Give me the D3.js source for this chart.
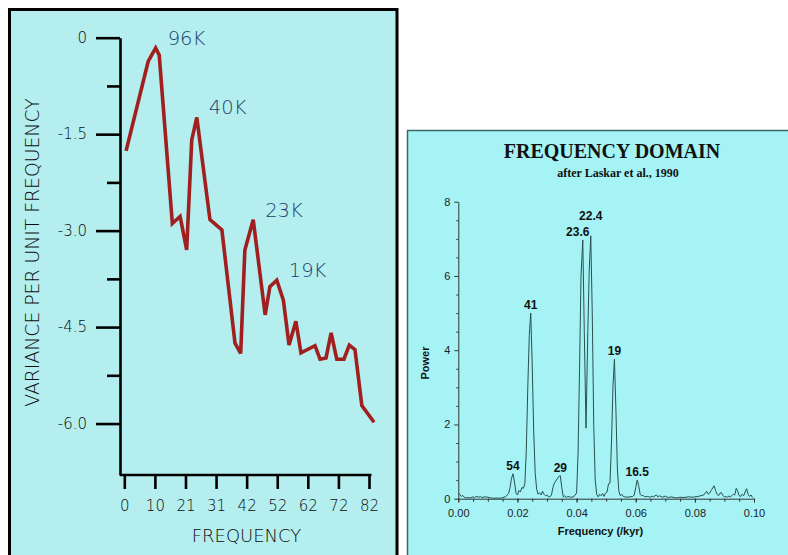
<!DOCTYPE html>
<html>
<head>
<meta charset="utf-8">
<script src="https://cdn.jsdelivr.net/npm/d3@7/dist/d3.min.js"></script>
<style>
  html, body { margin: 0; padding: 0; background: #ffffff; }
  svg { display: block; }
</style>
</head>
<body>
<svg id="chart" width="788" height="555"></svg>
<script>
// ---- Left panel: variance spectrum (log variance vs frequency) ----
const varFreq = [0.6, 8.0, 10.5, 11.7, 16.1, 18.7, 20.9, 22.6, 24.3, 28.7, 32.7, 37.1, 39.0,
  40.4, 43.2, 47.2, 48.8, 51.1, 53.3, 55.2, 57.5, 59.2, 63.9, 65.6, 67.6, 69.3, 71.2,
  73.6, 75.4, 77.3, 79.6, 83.7];
const varValue = [-1.76, -0.37, -0.16, -0.27, -2.89, -2.78, -3.30, -1.59, -1.24, -2.83, -2.99,
  -4.75, -4.91, -3.30, -2.83, -4.31, -3.87, -3.77, -4.08, -4.78, -4.41, -4.90, -4.79, -5.00,
  -4.98, -4.59, -5.00, -5.00, -4.78, -4.85, -5.72, -5.98];
const varTicks = [0, -1.5, -3.0, -4.5, -6.0];
const varMinorTicks = [-0.75, -2.25, -3.75, -5.25];
const freqTickLabels = ["0", "10", "21", "31", "42", "52", "62", "72", "82"];
const cycleLabels = ["96K", "40K", "23K", "19K"];
const cyclePeakIndex = [2, 8, 14, 17];

// ---- Right panel: power spectrum after Laskar et al., 1990 ----
const powFreq = [0.0000, 0.0005, 0.0010, 0.0015, 0.0020, 0.0025, 0.0030, 0.0040, 0.0050, 0.0055,
  0.0060, 0.0070, 0.0075, 0.0080, 0.0090, 0.0100, 0.0110, 0.0120, 0.0130, 0.0140, 0.0150,
  0.0160, 0.0165, 0.0170, 0.0175, 0.0180, 0.0185, 0.0190, 0.0195, 0.0200, 0.0205, 0.0210,
  0.0215, 0.0220, 0.0225, 0.0230, 0.0235, 0.0240, 0.0245, 0.0250, 0.0255, 0.0260, 0.0265,
  0.0270, 0.0275, 0.0280, 0.0285, 0.0290, 0.0295, 0.0300, 0.0305, 0.0310, 0.0315, 0.0320,
  0.0325, 0.0330, 0.0340, 0.0345, 0.0350, 0.0355, 0.0360, 0.0365, 0.0370, 0.0380, 0.0390,
  0.0400, 0.0405, 0.0410, 0.0415, 0.0421, 0.0426, 0.0432, 0.0438, 0.0443, 0.0448, 0.0453,
  0.0458, 0.0463, 0.0468, 0.0473, 0.0478, 0.0483, 0.0488, 0.0493, 0.0498, 0.0503, 0.0508,
  0.0513, 0.0518, 0.0523, 0.0528, 0.0533, 0.0538, 0.0543, 0.0548, 0.0553, 0.0558, 0.0563,
  0.0570, 0.0580, 0.0590, 0.0595, 0.0600, 0.0605, 0.0610, 0.0615, 0.0620, 0.0625, 0.0630,
  0.0640, 0.0650, 0.0655, 0.0660, 0.0670, 0.0675, 0.0680, 0.0690, 0.0700, 0.0710, 0.0720,
  0.0730, 0.0740, 0.0750, 0.0760, 0.0770, 0.0780, 0.0790, 0.0800, 0.0810, 0.0820, 0.0830,
  0.0840, 0.0845, 0.0850, 0.0855, 0.0865, 0.0870, 0.0875, 0.0880, 0.0885, 0.0890, 0.0895,
  0.0900, 0.0905, 0.0910, 0.0915, 0.0920, 0.0925, 0.0930, 0.0935, 0.0940, 0.0945, 0.0950,
  0.0955, 0.0960, 0.0965, 0.0970, 0.0975, 0.0980, 0.0985, 0.0990, 0.0995];
const powValue = [0.14, 0.12, 0.06, 0.09, 0.04, 0.02, 0.03, 0.02, 0.05, 0.03,
  0.06, 0.04, 0.06, 0.03, 0.05, 0.04, 0.02, 0.01, 0.02, 0.01, 0.03,
  0.05, 0.10, 0.14, 0.30, 0.55, 0.67, 0.45, 0.15, 0.10, 0.22, 0.18,
  0.30, 0.28, 0.40, 1.30, 3.00, 4.40, 5.00, 3.60, 1.80, 0.70, 0.25,
  0.12, 0.16, 0.10, 0.20, 0.12, 0.08, 0.10, 0.05, 0.05, 0.10, 0.30,
  0.42, 0.48, 0.60, 0.62, 0.30, 0.05, 0.08, 0.03, 0.06, 0.04, 0.05,
  0.15, 1.20, 3.50, 6.00, 6.97, 4.50, 1.90, 4.50, 6.20, 7.08, 5.00,
  2.00, 0.50, 0.12, 0.05, 0.12, 0.08, 0.14, 0.06, 0.15, 0.18, 0.40,
  0.42, 1.50, 3.00, 3.76, 2.40, 0.80, 0.20, 0.08, 0.12, 0.06, 0.05,
  0.04, 0.05, 0.06, 0.10, 0.30, 0.50, 0.35, 0.12, 0.08, 0.09, 0.05,
  0.06, 0.04, 0.07, 0.05, 0.10, 0.05, 0.08, 0.04, 0.07, 0.03, 0.05,
  0.03, 0.02, 0.04, 0.03, 0.04, 0.05, 0.04, 0.05, 0.06, 0.08, 0.10,
  0.20, 0.12, 0.15, 0.22, 0.35, 0.22, 0.12, 0.08, 0.15, 0.16, 0.08,
  0.05, 0.06, 0.04, 0.07, 0.05, 0.08, 0.12, 0.10, 0.28, 0.20, 0.08,
  0.06, 0.12, 0.08, 0.18, 0.27, 0.12, 0.06, 0.10, 0.03];
const powerTicks = [0, 2, 4, 6, 8];
const freqTicksKyr = [0.00, 0.02, 0.04, 0.06, 0.08, 0.10];
const peakNames = ["54", "41", "29", "23.6", "22.4", "19", "16.5"];
const peakFreq = [0.0185, 0.0245, 0.0345, 0.0421, 0.0448, 0.0528, 0.0605];
const peakPower = [0.67, 5.00, 0.62, 6.97, 7.08, 3.76, 0.50];

const svg = d3.select("#chart");

// ================= LEFT PANEL =================
const left = svg.append("g");
left.append("rect")
  .attr("x", 9.5).attr("y", 9.5).attr("width", 387.5).attr("height", 548)
  .attr("fill", "#b4eeee").attr("stroke", "#000").attr("stroke-width", 3);

const xL = d3.scaleLinear().domain([0, 82]).range([124.3, 369]);
const yL = d3.scaleLinear().domain([-6.8, 0]).range([475, 37.7]);
const fontL = "'DejaVu Sans', Verdana, sans-serif";
const weightL = 200;
const inkL = "#0c0c0c";

// y axis, major and minor ticks
left.append("g").attr("transform", "translate(120,0)")
  .call(d3.axisLeft(yL).tickValues(varTicks).tickSize(24).tickSizeOuter(0).tickPadding(9)
    .tickFormat(d => d === 0 ? "0" : d.toFixed(1)));
left.append("g").attr("transform", "translate(120,0)")
  .call(d3.axisLeft(yL).tickValues(varMinorTicks).tickSize(13).tickFormat(""))
  .call(g => g.select(".domain").remove());

// x axis
const xTickPos = d3.range(freqTickLabels.length).map(i => i * 82 / (freqTickLabels.length - 1));
left.append("g").attr("transform", "translate(0,475)")
  .call(d3.axisBottom(xL).tickValues(xTickPos).tickSize(14).tickPadding(11)
    .tickFormat((d, i) => freqTickLabels[i]))
  .call(g => g.select(".domain").remove());
left.append("line").attr("x1", 120).attr("x2", 371.5).attr("y1", 475).attr("y2", 475)
  .attr("stroke", "#000").attr("stroke-width", 2.6);

left.selectAll(".tick line").attr("stroke", "#000").attr("stroke-width", 2.6);
left.selectAll(".domain").attr("stroke", "#000").attr("stroke-width", 2.6);
left.selectAll(".tick text").attr("font-family", fontL).attr("font-weight", weightL)
  .attr("font-size", 15).attr("fill", inkL);

left.append("text").text("FREQUENCY")
  .attr("x", 246.5).attr("y", 542).attr("text-anchor", "middle")
  .attr("font-family", fontL).attr("font-weight", weightL).attr("font-size", 18).attr("fill", inkL);
left.append("text").text("VARIANCE PER UNIT FREQUENCY")
  .attr("transform", "translate(38.5,252.5) rotate(-90)").attr("text-anchor", "middle")
  .attr("font-family", fontL).attr("font-weight", weightL).attr("font-size", 18.8).attr("fill", inkL);

// spectrum line
const lineL = d3.line().x(d => xL(d[0])).y(d => yL(d[1]));
left.append("path")
  .datum(varFreq.map((f, i) => [f, varValue[i]]))
  .attr("d", lineL).attr("fill", "none")
  .attr("stroke", "#a11f1f").attr("stroke-width", 3.6)
  .attr("stroke-linejoin", "miter").attr("stroke-miterlimit", 3);

// cycle annotations
left.selectAll("text.cycle").data(cycleLabels).join("text").attr("class", "cycle")
  .text(d => d)
  .attr("x", (d, i) => xL(varFreq[cyclePeakIndex[i]]) + 12)
  .attr("y", (d, i) => yL(varValue[cyclePeakIndex[i]]) - 3)
  .attr("font-family", fontL).attr("font-weight", weightL)
  .attr("font-size", 19.5).attr("fill", "#233e6e");

// ================= RIGHT PANEL =================
const right = svg.append("g");
right.append("rect")
  .attr("x", 407.5).attr("y", 130.5).attr("width", 390).attr("height", 440)
  .attr("fill", "#a5f3f5").attr("stroke", "#3b6868").attr("stroke-width", 1.5);

const xR = d3.scaleLinear().domain([0, 0.1]).range([458.3, 754]);
const yR = d3.scaleLinear().domain([0, 8]).range([498.7, 201.7]);
const fontR = "'Liberation Sans', Arial, sans-serif";
const serif = "'Liberation Serif', 'Times New Roman', serif";

right.append("text").text("FREQUENCY DOMAIN")
  .attr("x", 612).attr("y", 158).attr("text-anchor", "middle")
  .attr("font-family", serif).attr("font-weight", "bold").attr("font-size", 20).attr("fill", "#111");
right.append("text").text("after Laskar et al., 1990")
  .attr("x", 618).attr("y", 177).attr("text-anchor", "middle")
  .attr("font-family", serif).attr("font-weight", "bold").attr("font-size", 12).attr("fill", "#111");

// axes
right.append("g").attr("transform", "translate(458.3,0)")
  .call(d3.axisLeft(yR).tickValues(powerTicks).tickSize(4).tickSizeOuter(0).tickPadding(4)
    .tickFormat(d3.format("d")));
right.append("g").attr("transform", "translate(458.3,0)")
  .call(d3.axisLeft(yR).tickValues(d3.range(0, 8.01, 0.5).filter(v => v % 2 !== 0))
    .tickSize(2).tickFormat(""))
  .call(g => g.select(".domain").remove());
right.append("g").attr("transform", "translate(0,498.7)")
  .call(d3.axisBottom(xR).tickValues(freqTicksKyr).tickSize(4).tickSizeOuter(0).tickPadding(7)
    .tickFormat(d3.format(".2f")));
right.append("g").attr("transform", "translate(0,498.7)")
  .call(d3.axisBottom(xR).tickValues(d3.range(0, 0.1001, 0.005)).tickSize(3).tickFormat(""))
  .call(g => g.select(".domain").remove());
right.selectAll(".domain, .tick line").attr("stroke", "#333").attr("stroke-width", 1);
right.selectAll(".tick text").attr("font-family", fontR).attr("font-size", 11).attr("fill", "#222");

right.append("text").text("Frequency (/kyr)")
  .attr("x", 600.5).attr("y", 535).attr("text-anchor", "middle")
  .attr("font-family", fontR).attr("font-weight", "bold").attr("font-size", 11).attr("fill", "#111");
right.append("text").text("Power")
  .attr("transform", "translate(429,363) rotate(-90)").attr("text-anchor", "middle")
  .attr("font-family", fontR).attr("font-weight", "bold").attr("font-size", 11).attr("fill", "#111");

// spectrum line
const lineR = d3.line().x(d => xR(d[0])).y(d => yR(d[1]));
right.append("path")
  .datum(powFreq.map((f, i) => [f, powValue[i]]))
  .attr("d", lineR).attr("fill", "none")
  .attr("stroke", "#2c4f4f").attr("stroke-width", 1);

// period labels (kyr) above each peak
const labelShift = { "23.6": -5, "22.4": 0 };
const labelLift = { "22.4": 16 };
right.selectAll("text.peak").data(peakNames).join("text").attr("class", "peak")
  .text(d => d)
  .attr("x", (d, i) => xR(peakFreq[i]) + (labelShift[d] || 0))
  .attr("y", (d, i) => yR(peakPower[i]) - (labelLift[d] || 4))
  .attr("text-anchor", "middle")
  .attr("font-family", fontR).attr("font-weight", "bold").attr("font-size", 12).attr("fill", "#111");
</script>
</body>
</html>
